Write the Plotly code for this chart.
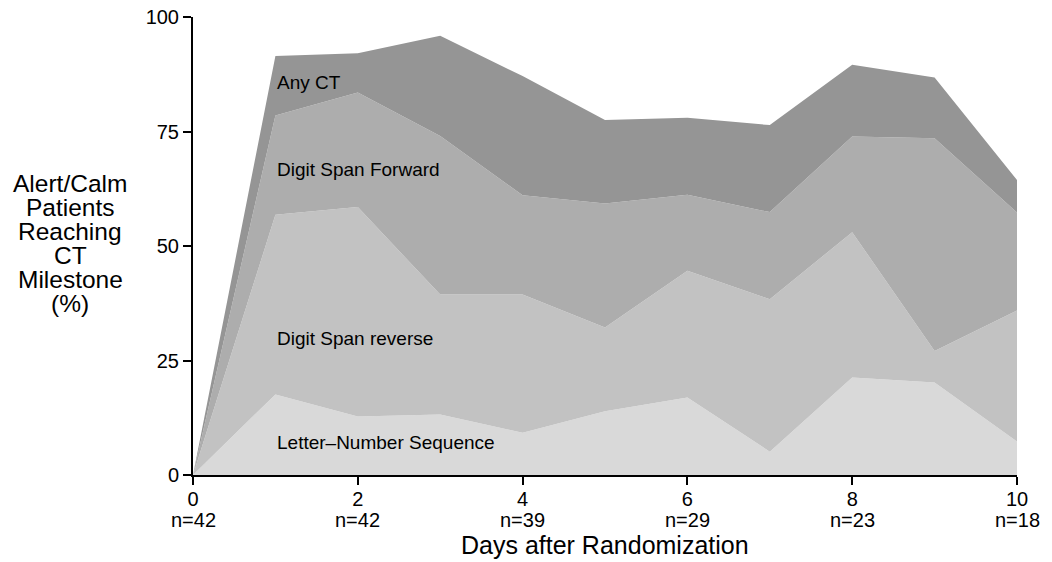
import plotly.graph_objects as go

days = [0, 1, 2, 3, 4, 5, 6, 7, 8, 9, 10]
any_ct = [0, 91.5, 92.1, 95.9, 87.1, 77.5, 78.0, 76.4, 89.6, 86.8, 64.4]
digit_fwd = [0, 78.5, 83.5, 74.0, 61.1, 59.3, 61.2, 57.4, 73.9, 73.5, 57.3]
digit_rev = [0, 56.8, 58.5, 39.4, 39.4, 32.2, 44.6, 38.4, 53.0, 27.1, 35.9]
letter_num = [0, 17.6, 12.8, 13.2, 9.2, 13.9, 16.9, 5.1, 21.3, 20.2, 7.3]

tick_vals = [0, 2, 4, 6, 8, 10]
tick_n = ["n=42", "n=42", "n=39", "n=29", "n=23", "n=18"]

series_names = ["Letter\u2013Number Sequence", "Digit Span reverse", "Digit Span Forward", "Any CT"]
series_vals = [letter_num, digit_rev, digit_fwd, any_ct]
colors = ["#d9d9d9", "#c2c2c2", "#adadad", "#959595"]
label_y = [7.0, 29.7, 66.8, 85.8]

ytitle_lines = ["Alert/Calm", "Patients", "Reaching", "CT", "Milestone", "(%)"]

FONT = "Liberation Sans, Arial, Helvetica, sans-serif"

fig = go.Figure()
for i, (name, vals, col) in enumerate(zip(series_names, series_vals, colors)):
    fig.add_trace(go.Scatter(
        x=days, y=vals, name=name, mode="lines",
        line=dict(width=0, color=col),
        fill="tozeroy" if i == 0 else "tonexty",
        fillcolor=col, showlegend=False, hoverinfo="x+y+name",
    ))

for name, ly in zip(series_names, label_y):
    fig.add_annotation(x=1, y=ly, xref="x", yref="y", text=name, showarrow=False,
                       xanchor="left", yanchor="middle",
                       font=dict(family=FONT, size=19, color="black"))

# multi-line y title, one annotation per line for tight spacing
for k, line in enumerate(ytitle_lines):
    ypix = 183 + 24 * k
    yval = (475 - ypix) / 4.58
    fig.add_annotation(x=-0.149, y=yval, xref="paper", yref="y", text=line,
                       showarrow=False, xanchor="center", yanchor="middle",
                       font=dict(family=FONT, size=24.5, color="black"))

# sample sizes under the day ticks
for v, t in zip(tick_vals, tick_n):
    fig.add_annotation(x=v, y=0, xref="x", yref="y", text=t, showarrow=False,
                       xanchor="center", yanchor="middle", yshift=-45,
                       font=dict(family=FONT, size=20, color="black"))

# x axis title
fig.add_annotation(x=0.5, y=0, xref="paper", yref="paper", text="Days after Randomization",
                   showarrow=False, xanchor="center", yanchor="middle", yshift=-70,
                   font=dict(family=FONT, size=25, color="black"))

fig.update_layout(
    width=1044, height=554,
    margin=dict(l=185, r=35, t=9, b=87),
    plot_bgcolor="white", paper_bgcolor="white",
    font=dict(family=FONT, color="black"),
)
fig.update_xaxes(
    range=[0, 10], tickvals=tick_vals, ticktext=[str(v) for v in tick_vals],
    ticks="outside", ticklen=8, tickwidth=2, tickcolor="black",
    showline=True, linecolor="black", linewidth=2, showgrid=False, zeroline=False,
    tickfont=dict(family=FONT, size=20, color="black"), automargin=False,
    ticklabeloverflow="allow", ticklabelstandoff=-3,
)
fig.update_yaxes(
    range=[0, 100], tickvals=[0, 25, 50, 75, 100],
    ticks="outside", ticklen=8, tickwidth=2, tickcolor="black",
    showline=True, linecolor="black", linewidth=2, showgrid=False, zeroline=False,
    tickfont=dict(family=FONT, size=20, color="black"), automargin=False,
    ticklabeloverflow="allow",
)

fig.write_html("out.html")
